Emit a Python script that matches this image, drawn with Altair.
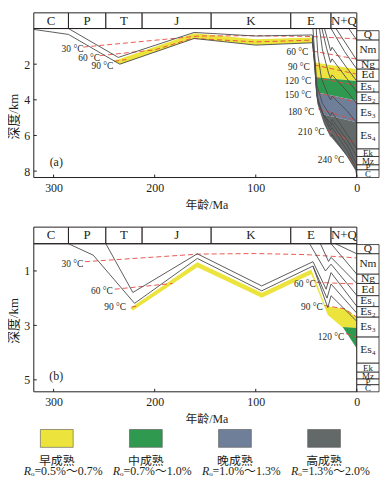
import altair as alt
import pandas as pd

FONT = "Liberation Serif, Noto Sans CJK SC"
INK = "#231f20"
LINE = "#4a4a4a"
RED = "#e8473f"

# ---------------- data ----------------
PERIODS = ["C", "P", "T", "J", "K", "E", "N+Q"]
PERIOD_OLD = [319.6, 285.3, 248.3, 212.4, 144.1, 65.3, 25.5]
PERIOD_YOUNG = [285.3, 248.3, 212.4, 144.1, 65.3, 25.5, 0.0]

UNITS = ["Q", "Nm", "Ng", "Ed", "Es₁", "Es₂", "Es₃", "Es₄", "Ek", "Mz", "P", "C"]
A_UNIT_TOP = [0.12, 0.65, 1.78, 2.28, 2.96, 3.57, 4.22, 5.29, 6.76, 7.18, 7.65, 7.93]
A_UNIT_BASE = [0.65, 1.78, 2.28, 2.96, 3.57, 4.22, 5.29, 6.76, 7.18, 7.65, 7.93, 8.36]
B_UNIT_TOP = [0.03, 0.37, 1.12, 1.46, 1.91, 2.31, 2.70, 3.43, 4.39, 4.72, 4.97, 5.18]
B_UNIT_BASE = [0.37, 1.12, 1.46, 1.91, 2.31, 2.70, 3.43, 4.39, 4.72, 4.97, 5.18, 5.44]

X_TICKS = [300, 200, 100, 0]
A_Y_TICKS = [2, 4, 6, 8]
B_Y_TICKS = [1, 3, 5]

ZONES = ["早成熟", "中成熟", "晚成熟", "高成熟"]
ZONE_RO = ["0.5%～0.7%", "0.7%～1.0%", "1.0%～1.3%", "1.3%～2.0%"]
ZONE_COLORS = ["#ece43c", "#2f9a4f", "#6f7f99", "#636969"]

# panel (a) burial curves: (age Ma, depth km)
A_LINE_1 = [(319.6, 0.05), (285.3, 0.33), (234.5, 2.0), (161, 0.56), (100, 0.93), (44, 0.8),
            (41.2, 2.0), (40.2, 3.12), (38.5, 4.23), (32, 5.35), (26, 6.05), (24.5, 5.95),
            (9.1, 7.2), (1, 7.95), (0, 8.3)]
A_LINE_2 = [(285.3, 0.0), (236, 1.62), (161, 0.22), (100, 0.42), (44, 0.36), (41.6, 2.0),
            (40, 3.5), (37, 4.35), (32, 5.05), (26, 5.7), (24.5, 5.55), (9, 6.9), (0, 7.93)]
A_LINE_3 = [(44, 0.45), (41.4, 2.2), (39.5, 3.8), (34, 4.7), (26, 5.5), (24.5, 5.3), (9, 6.6), (0, 7.65)]
A_LINE_4 = [(44, 0.55), (41.3, 2.4), (39, 4.0), (33, 4.85), (26, 5.3), (24.5, 5.1), (9, 6.3), (0, 7.18)]
A_LINE_5 = [(43.4, 0.0), (41.5, 1.6), (39.5, 3.2), (34, 4.2), (26, 4.9), (24.5, 4.7), (10, 5.9), (0, 6.76)]
A_LINE_6 = [(40.2, 0.0), (38.5, 1.5), (35, 2.8), (28, 3.8), (26, 4.0), (24.5, 3.8), (10, 4.6), (0, 5.29)]
A_LINE_7 = [(36.9, 0.0), (34, 1.2), (28, 2.5), (26, 2.8), (24.5, 2.6), (10, 3.5), (0, 4.22)]
A_LINE_8 = [(34.5, 0.0), (30, 1.1), (26, 1.9), (24.5, 1.7), (10, 2.8), (0, 3.57)]
A_LINE_9 = [(32, 0.0), (28, 0.8), (26, 1.25), (24.5, 1.05), (10, 2.2), (0, 2.96)]
A_LINE_10 = [(25.5, 0.0), (12, 1.3), (0, 2.28)]
A_LINE_11 = [(20.6, 0.0), (0, 1.78)]
A_LINE_12 = [(8, 0.0), (0, 0.65)]

# panel (a) maturity zones (polygons)
A_YELLOW_1 = [(241, 1.79), (235.5, 1.72), (161, 0.27), (100, 0.6), (44, 0.5), (44, 0.8),
              (100, 0.93), (161, 0.56), (234.5, 2.0)]
A_YELLOW_2 = [(41.5, 1.9), (0, 2.28), (0, 2.94), (40.7, 2.74)]
A_GREEN = [(40.7, 2.74), (0, 2.94), (0, 4.05), (39.6, 3.58)]
A_BLUE = [(39.6, 3.58), (0, 4.05), (0, 5.26), (35, 4.8), (38.5, 4.23)]
A_GREY = [(35, 4.8), (0, 5.26), (0, 8.33), (1, 7.95), (9.1, 7.2), (25.5, 6.09), (32, 5.35)]

# panel (a) isotherms
A_ISO_30 = [(270.5, 1.04), (156, 0.42), (100, 0.4), (44, 0.45), (0, 0.58)]
A_ISO_60L = [(254, 1.52), (200, 1.2), (163, 0.55), (100, 0.75), (44, 0.65)]
A_ISO_90L = [(240, 1.84), (228, 1.74)]
A_ISO_60 = [(44, 1.26), (0, 1.72)]
A_ISO_90 = [(42.5, 2.04), (0, 2.56)]
A_ISO_120 = [(41.5, 2.75), (0, 3.2)]
A_ISO_150 = [(40.5, 3.58), (0, 4.14)]
A_ISO_180 = [(38, 4.51), (0, 5.16)]
A_ISO_210 = [(29, 5.72), (0, 6.46)]
A_ISO_240 = [(9, 7.2), (0, 7.77)]
A_ISO_TEXT = ["30 °C", "60 °C", "90 °C", "60 °C", "90 °C", "120 °C", "150 °C", "180 °C", "210 °C", "240 °C"]
A_ISO_TEXT_AGE = [270.5, 254, 241, 48, 46.5, 45, 45, 42, 32, 12.4]
A_ISO_TEXT_DEPTH = [1.17, 1.63, 2.1, 1.32, 2.17, 2.93, 3.73, 4.68, 5.8, 7.4]

# panel (b) burial curves
B_LINE_1 = [(248.3, 0.0), (221.6, 1.79), (157.8, 0.37), (94.1, 1.55), (43.4, 0.66), (30.4, 1.67),
            (25.5, 1.06), (0, 2.3)]
B_LINE_2 = [(285.3, 0.0), (260.8, 0.42), (219.9, 2.19), (157.8, 0.54), (94.1, 1.73), (43.4, 0.82),
            (29.5, 2.0), (25.5, 1.48), (0, 2.55)]
B_LINE_3 = [(43.4, 0.82), (28.7, 2.35), (25.5, 1.91), (0, 2.85)]
B_LINE_4 = [(46.7, 0.0), (31, 1.0), (25.5, 0.75), (0, 1.9)]
B_LINE_5 = [(36, 0.0), (28, 0.65), (25.5, 0.5), (0, 1.46)]
B_LINE_6 = [(25.5, 0.0), (0, 1.12)]
B_LINE_7 = [(21, 0.0), (0, 0.37)]

B_YELLOW = [(224, 2.36), (157.8, 0.68), (94.1, 1.8), (45.1, 0.95), (31, 2.3), (12, 2.39), (0, 2.7),
            (0, 3.1), (14, 3.08), (28.7, 2.62), (45.1, 1.12), (94.1, 1.98), (157.8, 0.86), (221.6, 2.45)]
B_GREEN = [(14, 3.06), (0, 3.1), (0, 3.85)]

B_ISO_30 = [(268.9, 0.66), (156, 0.38), (100, 0.36), (50, 0.4), (0, 0.52)]
B_ISO_60L = [(239.5, 1.67), (182.3, 1.46)]
B_ISO_90L = [(223, 2.33), (217, 2.28)]
B_ISO_60 = [(40, 1.42), (0, 1.48)]
B_ISO_90 = [(32, 2.27), (12, 2.39), (0, 2.7)]
B_ISO_120 = [(10.8, 3.3), (0, 3.43)]
B_ISO_TEXT = ["30 °C", "60 °C", "90 °C", "60 °C", "90 °C", "120 °C"]
B_ISO_TEXT_AGE = [270.6, 241.5, 228.3, 40.5, 33.6, 12.4]
B_ISO_TEXT_DEPTH = [0.73, 1.75, 2.33, 1.48, 2.33, 3.43]

# ---------------- layout ----------------
AGE_LEFT = 319.6
AGE_RIGHT = -21.96
WIDTH = 348
A_DEPTH = [-0.88, 8.36]
B_DEPTH = [-0.61, 5.44]
A_HEIGHT = 166
B_HEIGHT = 166
SMALL_UNITS = ["Ek", "Mz", "P", "C"]


def to_df(named, zone=False):
    rows = []
    for k, item in enumerate(named):
        if zone:
            z, pts = item
        else:
            z, pts = None, item
        for i, (a, d) in enumerate(pts):
            r = {"id": f"s{k}", "i": i, "age": a, "depth": d}
            if zone:
                r["zone"] = z
            rows.append(r)
    return pd.DataFrame(rows)


def panel(lines, isos, itext, iage, idepth, fills, utop, ubase, ydom, height, yticks, tag, tag_at,
          title_y, extra=()):
    xs = alt.Scale(domain=[AGE_RIGHT, AGE_LEFT], reverse=True, nice=False, zero=False)
    ys = alt.Scale(domain=ydom, reverse=True, nice=False, zero=False)

    def X(f):
        return alt.X(f + ":Q", scale=xs, axis=None)

    def Y(f):
        return alt.Y(f + ":Q", scale=ys, axis=None)

    axes = alt.Chart(pd.DataFrame({"age": [AGE_LEFT, AGE_RIGHT], "depth": ydom})).mark_point(opacity=0).encode(
        x=alt.X("age:Q", scale=xs, axis=alt.Axis(
            values=X_TICKS, ticks=False, domain=False, grid=False, labelFont=FONT, labelFontSize=12,
            labelColor=INK, labelPadding=5, title="年龄/Ma", titleFont=FONT, titleFontSize=12,
            titleFontWeight="normal", titleColor=INK, titlePadding=6)),
        y=alt.Y("depth:Q", scale=ys, axis=alt.Axis(
            values=yticks, ticks=False, domain=False, grid=False, labelFont=FONT, labelFontSize=12,
            labelColor=INK, labelPadding=4, title="深度/km", titleFont=FONT, titleFontSize=13,
            titleFontWeight="normal", titleColor=INK, titleX=-20, titleY=title_y, titleAngle=270,
            titleAlign="center", titleBaseline="middle")),
    )

    fill_layer = alt.Chart(to_df(fills, zone=True)).mark_line(strokeOpacity=0, strokeWidth=0).encode(
        x=X("age"), y=Y("depth"), detail="id:N", order="i:Q",
        fill=alt.Fill("zone:N", scale=alt.Scale(domain=ZONES, range=ZONE_COLORS), legend=None),
    )

    hdr = pd.DataFrame({"name": PERIODS, "old": PERIOD_OLD, "young": PERIOD_YOUNG})
    hdr["top"] = ydom[0]
    hdr["base"] = 0.0
    hdr["mid"] = (hdr["old"] + hdr["young"]) / 2
    hdr["ym"] = ydom[0] / 2
    header = alt.Chart(hdr).mark_rect(fill="white", stroke=INK, strokeWidth=1).encode(
        x=X("old"), x2=alt.X2("young"), y=Y("top"), y2=alt.Y2("base"))
    header_txt = alt.Chart(hdr).mark_text(font=FONT, fontSize=13, color=INK).encode(
        x=X("mid"), y=Y("ym"), text="name:N")

    frame = alt.Chart(pd.DataFrame({"old": [AGE_LEFT], "young": [0.0], "top": [0.0], "base": [ydom[1]]})).mark_rect(
        fill="white", fillOpacity=0, stroke=INK, strokeWidth=1).encode(
        x=X("old"), x2=alt.X2("young"), y=Y("top"), y2=alt.Y2("base"))

    line_layer = alt.Chart(to_df(lines)).mark_line(color=LINE, strokeWidth=0.9).encode(
        x=X("age"), y=Y("depth"), detail="id:N", order="i:Q")
    iso_layer = alt.Chart(to_df(isos)).mark_line(color=RED, strokeWidth=0.9, strokeDash=[5, 3]).encode(
        x=X("age"), y=Y("depth"), detail="id:N", order="i:Q")
    iso_txt = alt.Chart(pd.DataFrame({"t": itext, "age": iage, "depth": idepth})).mark_text(
        font=FONT, fontSize=9.5, color=INK, align="right", baseline="middle").encode(
        x=X("age"), y=Y("depth"), text="t:N")

    col = pd.DataFrame({"unit": UNITS, "top": utop, "base": ubase})
    col["left"] = 0.0
    col["right"] = AGE_RIGHT
    col["mid"] = (col["top"] + col["base"]) / 2
    col["xc"] = AGE_RIGHT / 2
    col["small"] = col["unit"].isin(SMALL_UNITS)
    col_rect = alt.Chart(col).mark_rect(fill="white", stroke=INK, strokeWidth=0.8).encode(
        x=X("left"), x2=alt.X2("right"), y=Y("top"), y2=alt.Y2("base"))
    col_txt = alt.Chart(col).mark_text(font=FONT, color=INK, baseline="middle").encode(
        x=X("xc"), y=Y("mid"), text="unit:N",
        size=alt.condition("datum.small", alt.value(9), alt.value(11.5)))

    xt = alt.Chart(pd.DataFrame({"age": X_TICKS})).mark_rule(color=INK, strokeWidth=1).encode(
        x=X("age"), y=alt.value(height), y2=alt.value(height - 3))
    yt = alt.Chart(pd.DataFrame({"depth": yticks})).mark_rule(color=INK, strokeWidth=1).encode(
        y=Y("depth"), x=alt.value(0), x2=alt.value(3))

    tag_layer = alt.Chart(pd.DataFrame({"t": [tag], "age": [tag_at[0]], "depth": [tag_at[1]]})).mark_text(
        font=FONT, fontSize=12, color=INK).encode(x=X("age"), y=Y("depth"), text="t:N")

    out = alt.layer(axes, fill_layer, header, header_txt, iso_layer, line_layer, frame,
                    col_rect, col_txt, iso_txt, xt, yt, tag_layer, *extra).properties(width=WIDTH, height=height)
    return out.resolve_scale(x="independent", y="independent", fill="independent")


# legend (drawn below panel b, own x scale)
leg = pd.DataFrame({"i": list(range(4)), "zone": ZONES, "ro": ["ₒ=" + r for r in ZONE_RO]})
ls = alt.Scale(domain=[-0.258, 3.617], nice=False, zero=False)
lbase = alt.Chart(leg).transform_calculate(x1="datum.i - 0.184", x2="datum.i + 0.184")
LEG_TOP = B_HEIGHT + 38
sw = lbase.mark_rect(stroke="#555555", strokeWidth=0.6).encode(
    x=alt.X("x1:Q", scale=ls, axis=None), x2=alt.X2("x2"), y=alt.value(LEG_TOP), y2=alt.value(LEG_TOP + 18),
    fill=alt.Fill("zone:N", scale=alt.Scale(domain=ZONES, range=ZONE_COLORS), legend=None))
nm = lbase.mark_text(font=FONT, fontSize=12, color=INK, baseline="middle").encode(
    x=alt.X("i:Q", scale=ls, axis=None), y=alt.value(LEG_TOP + 32), text="zone:N")
rr = lbase.mark_text(font=FONT, fontSize=12, color=INK, fontStyle="italic", align="right",
                     baseline="middle", dx=-26).encode(
    x=alt.X("i:Q", scale=ls, axis=None), y=alt.value(LEG_TOP + 42), text=alt.value("R"))
ro = lbase.mark_text(font=FONT, fontSize=12, color=INK, align="left", baseline="middle", dx=-26).encode(
    x=alt.X("i:Q", scale=ls, axis=None), y=alt.value(LEG_TOP + 42), text="ro:N")

pa = panel(
    [A_LINE_1, A_LINE_2, A_LINE_3, A_LINE_4, A_LINE_5, A_LINE_6, A_LINE_7, A_LINE_8, A_LINE_9,
     A_LINE_10, A_LINE_11, A_LINE_12],
    [A_ISO_30, A_ISO_60L, A_ISO_90L, A_ISO_60, A_ISO_90, A_ISO_120, A_ISO_150, A_ISO_180, A_ISO_210, A_ISO_240],
    A_ISO_TEXT, A_ISO_TEXT_AGE, A_ISO_TEXT_DEPTH,
    [(ZONES[0], A_YELLOW_1), (ZONES[0], A_YELLOW_2), (ZONES[1], A_GREEN), (ZONES[2], A_BLUE), (ZONES[3], A_GREY)],
    A_UNIT_TOP, A_UNIT_BASE, A_DEPTH, A_HEIGHT, A_Y_TICKS, "(a)", (297.4, 7.47), 104,
)

pb = panel(
    [B_LINE_1, B_LINE_2, B_LINE_3, B_LINE_4, B_LINE_5, B_LINE_6, B_LINE_7],
    [B_ISO_30, B_ISO_60L, B_ISO_90L, B_ISO_60, B_ISO_90, B_ISO_120],
    B_ISO_TEXT, B_ISO_TEXT_AGE, B_ISO_TEXT_DEPTH,
    [(ZONES[0], B_YELLOW), (ZONES[1], B_GREEN)],
    B_UNIT_TOP, B_UNIT_BASE, B_DEPTH, B_HEIGHT, B_Y_TICKS, "(b)", (297.4, 4.85), 94,
    extra=(sw, nm, rr, ro),
)

chart = alt.vconcat(pa, pb, spacing=14).resolve_scale(
    x="independent", y="independent", fill="independent").properties(padding=0).configure_view(stroke=None)

chart.save("out.html", embed_options={"renderer": "svg", "actions": False})
